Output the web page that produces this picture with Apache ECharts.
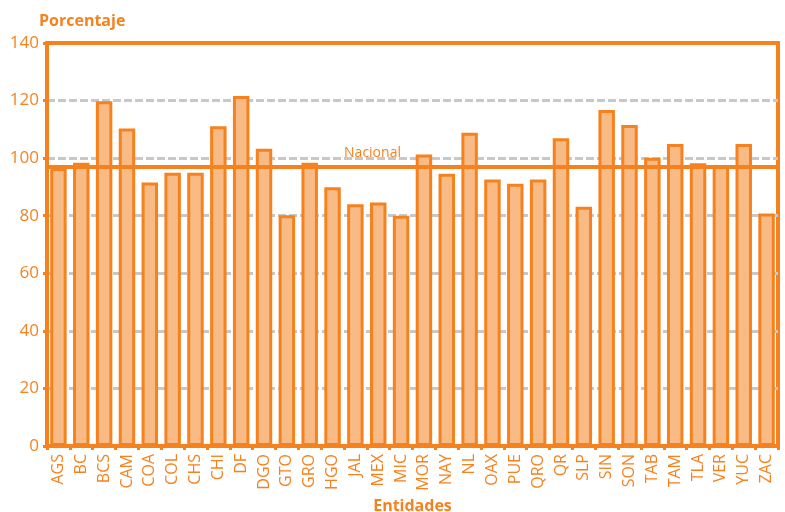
<!DOCTYPE html>
<html>
<head>
    <meta charset="utf-8">
    <script src="https://cdn.jsdelivr.net/npm/echarts@6/dist/echarts.min.js"></script>
</head>
<body style="margin:0">
    <div id="main" style="width:785px;height:512px;"></div>
    <script>
        // entidades federativas
        var entidades = ['AGS', 'BC', 'BCS', 'CAM', 'COA', 'COL', 'CHS', 'CHI', 'DF', 'DGO', 'GTO', 'GRO', 'HGO', 'JAL', 'MEX', 'MIC',
            'MOR', 'NAY', 'NL', 'OAX', 'PUE', 'QRO', 'QR', 'SLP', 'SIN', 'SON', 'TAB', 'TAM', 'TLA', 'VER', 'YUC', 'ZAC'];
        var porcentaje = [96.6, 98.4, 119.8, 110.3, 91.5, 94.9, 94.9, 111.1, 121.6, 103.3, 80.2, 98.4, 89.9, 84.0, 84.6, 80.0,
            101.3, 94.6, 108.8, 92.6, 91.1, 92.6, 106.9, 83.1, 116.7, 111.5, 100.1, 104.9, 98.2, 97.4, 104.9, 80.8];
        var nacional = 97;
        var yTicks = [0, 20, 40, 60, 80, 100, 120, 140];

        var naranja = '#F5821F';
        var myChart = echarts.init(document.getElementById('main'));
        var option = {
            animation: false,
            grid: {
                left: 47, right: 7, top: 43, bottom: 66,
                containLabel: false, outerBoundsMode: 'none',
                show: true, borderColor: naranja, borderWidth: 4, backgroundColor: 'transparent'
            },
            xAxis: {
                type: 'category',
                data: entidades,
                name: 'Entidades',
                nameLocation: 'middle',
                nameGap: 50,
                nameTextStyle: { color: naranja, fontSize: 16, fontWeight: 'bold', fontFamily: 'Open Sans' },
                axisLine: { lineStyle: { color: naranja, width: 4 } },
                axisTick: { show: true, length: 4, lineStyle: { color: naranja, width: 3 } },
                axisLabel: { rotate: 90, color: naranja, fontSize: 16, fontFamily: 'Open Sans', margin: 8, interval: 0 }
            },
            yAxis: {
                type: 'value',
                min: yTicks[0],
                max: yTicks[yTicks.length - 1],
                interval: 20,
                name: 'Porcentaje',
                nameLocation: 'end',
                nameGap: 14,
                nameTextStyle: { color: naranja, fontSize: 16, fontWeight: 'bold', fontFamily: 'Open Sans', align: 'left', padding: [0, 0, 0, -8] },
                axisLine: { show: true, lineStyle: { color: naranja, width: 4 } },
                axisTick: { show: true, length: 4, lineStyle: { color: naranja, width: 3 } },
                axisLabel: { color: naranja, fontSize: 17, fontFamily: 'Open Sans', margin: 8 },
                splitLine: { showMaxLine: false, lineStyle: { color: '#c8c8c8', width: 3, type: [8, 3] } }
            },
            series: [{
                type: 'bar',
                data: porcentaje,
                barWidth: '72%',
                itemStyle: { color: '#F9BB85', borderColor: naranja, borderWidth: 3 },
                markLine: {
                    silent: true,
                    symbol: 'none',
                    lineStyle: { color: naranja, width: 4, type: 'solid' },
                    label: {
                        formatter: 'Nacional', position: 'middle', color: naranja,
                        fontSize: 14, fontFamily: 'Open Sans', offset: [-40, -2]
                    },
                    data: [{ yAxis: nacional }]
                }
            }]
        };
        myChart.setOption(option);
    </script>
</body>
</html>
